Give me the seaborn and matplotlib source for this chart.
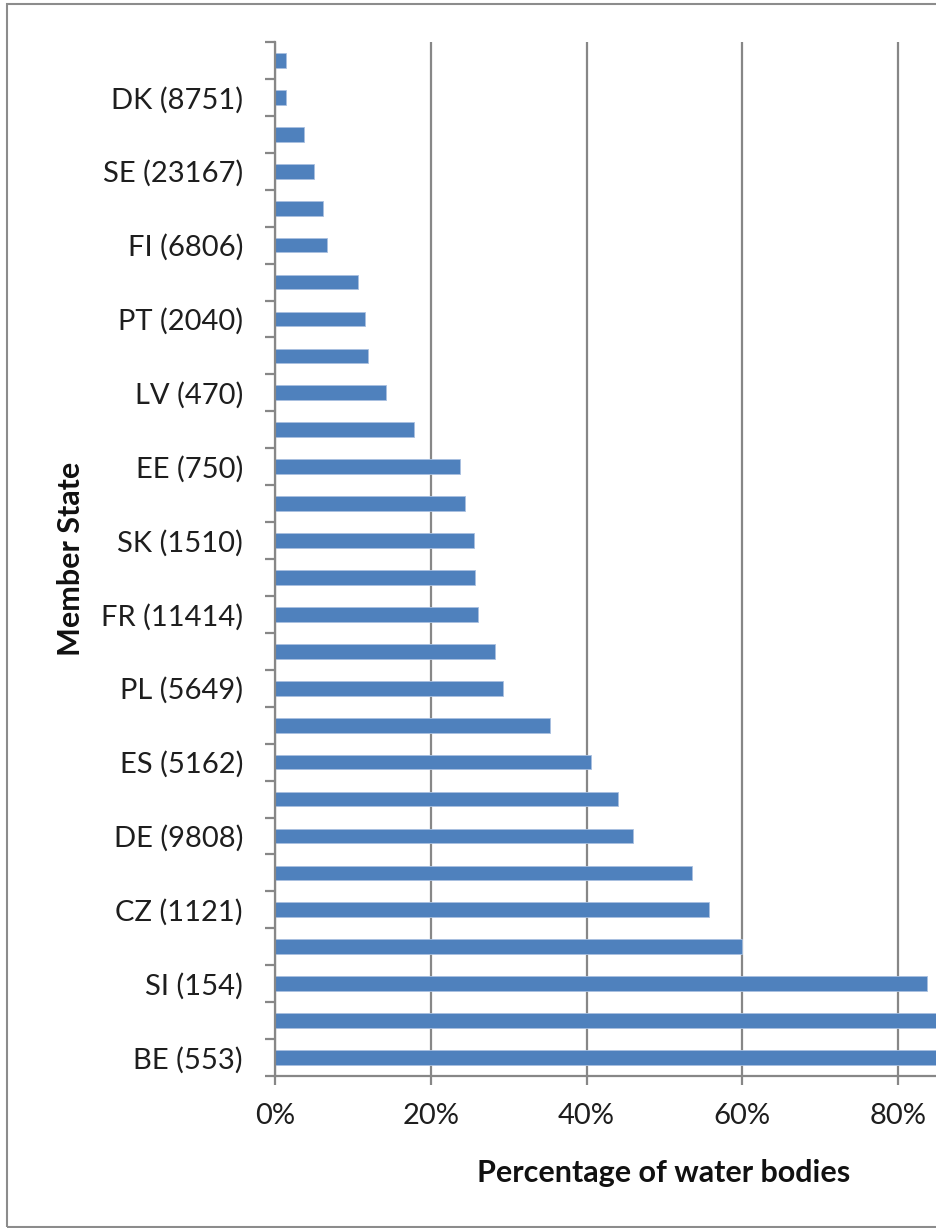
import pandas as pd
import matplotlib.pyplot as plt
import seaborn as sns
from matplotlib.patches import Rectangle

# Member states top to bottom; only every second category carries a visible label
states = ["s01", "DK (8751)", "s03", "SE (23167)", "s05", "FI (6806)", "s07",
          "PT (2040)", "s09", "LV (470)", "s11", "EE (750)", "s13", "SK (1510)",
          "s15", "FR (11414)", "s17", "PL (5649)", "s19", "ES (5162)", "s21",
          "DE (9808)", "s23", "CZ (1121)", "s25", "SI (154)", "s27", "BE (553)"]
shown_labels = ["", "DK (8751)", "", "SE (23167)", "", "FI (6806)", "",
                "PT (2040)", "", "LV (470)", "", "EE (750)", "", "SK (1510)",
                "", "FR (11414)", "", "PL (5649)", "", "ES (5162)", "",
                "DE (9808)", "", "CZ (1121)", "", "SI (154)", "", "BE (553)"]
percent = [1.4, 1.4, 3.7, 5.0, 6.1, 6.7, 10.6, 11.5, 11.9, 14.2, 17.8, 23.7, 24.4, 25.5,
           25.7, 26.1, 28.2, 29.3, 35.3, 40.6, 44.0, 46.0, 53.6, 55.7, 60.0, 83.7, 90.0, 92.0]
x_ticks = [0, 20, 40, 60, 80]

df = pd.DataFrame({"State": states, "Percent": percent})

sns.set_theme(style="white")
plt.rcParams['font.family'] = ['Lato', 'DejaVu Sans']

W, H = 937, 1228
fig = plt.figure(figsize=(W / 100, H / 100), dpi=100)
ax = fig.add_axes([275 / W, 152 / H, (W - 275) / W, 1034 / H])

sns.barplot(data=df, x="Percent", y="State", orient="h", color="#4F81BD",
            width=0.4, saturation=1, edgecolor="#a9c0e0", linewidth=0.6, ax=ax)

grey = "#878787"
ax.set_xlim(0, 85)
ax.set_ylim(len(states) - 0.5, -0.5)
ax.set_xticks(x_ticks)
ax.set_xticklabels([f"{t}%" for t in x_ticks])
ax.grid(axis="x", color=grey, linewidth=1.6)
ax.grid(axis="y", visible=False)
ax.set_axisbelow(True)

# labels on category centres, tick marks on category boundaries
ax.set_yticks(range(len(states)))
ax.set_yticklabels(shown_labels)
ax.set_yticks([i - 0.5 for i in range(len(states) + 1)], minor=True)
ax.tick_params(axis="y", which="major", length=0, pad=23, labelsize=21, labelcolor="#1e1e1e")
ax.tick_params(axis="y", which="minor", left=True, length=7, width=1.6, color=grey, direction="out")
ax.tick_params(axis="x", bottom=True, length=6.5, width=1.6, color=grey, direction="out",
               pad=13, labelsize=21, labelcolor="#1e1e1e")

for side in ["top", "right"]:
    ax.spines[side].set_visible(False)
for side in ["left", "bottom"]:
    ax.spines[side].set_color(grey)
    ax.spines[side].set_linewidth(1.6)

ax.set_xlabel("Percentage of water bodies", fontsize=22, fontweight="bold", color="#111111")
ax.set_ylabel("Member State", fontsize=22, fontweight="bold", color="#111111",
              va="center", rotation_mode="anchor")
ax.xaxis.set_label_coords((664 - 275) / (W - 275), -83 / 1034)
ax.yaxis.set_label_coords(-(275 - 71) / (W - 275), 0.5)

# chart frame (right edge cropped off)
fig.patches.append(Rectangle((7 / W, 1 / H), 2, (H - 5) / H, transform=fig.transFigure,
                             fill=False, edgecolor="#8c8c8c", linewidth=1.5))

fig.savefig("out.png", dpi=100)
